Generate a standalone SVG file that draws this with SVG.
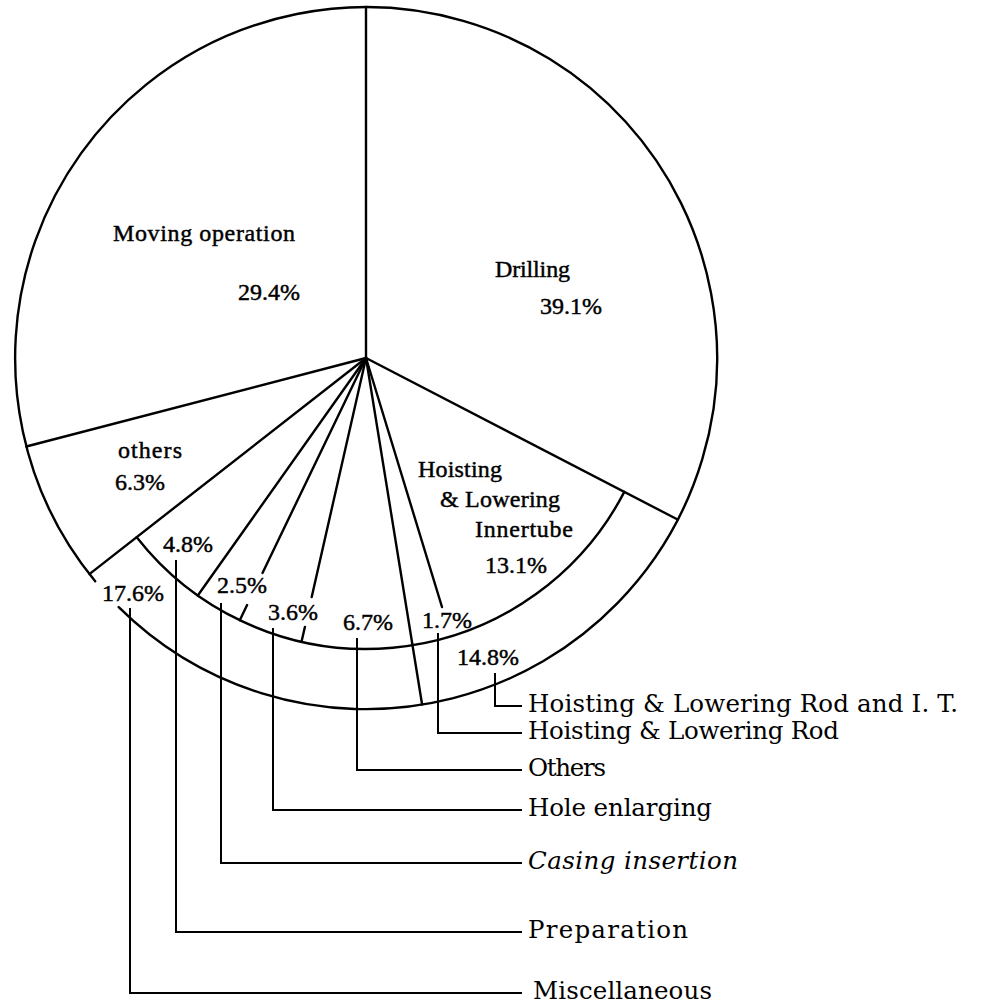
<svg xmlns="http://www.w3.org/2000/svg" width="999" height="1007" viewBox="0 0 999 1007">
<style>
.ln{fill:none;stroke:#000;stroke-width:2.4;stroke-linecap:round;stroke-linejoin:miter}
.ld{fill:none;stroke:#000;stroke-width:2}
.pl{font-family:"Liberation Serif","DejaVu Serif",serif;font-size:24px;fill:#000;stroke:#000;stroke-width:0.45}
.rl{font-family:"DejaVu Serif","Liberation Serif",serif;font-size:24.5px;fill:#000}
</style>
<rect width="999" height="1007" fill="#fff"/>
<g id="pie-outline">
<path class="ln" d="M95.2 581.3 A351 351 0 1 1 118.7 607.1"/>
<path class="ln" d="M624.3 491.9 A291 291 0 0 1 136.7 537.2"/>
</g>
<g id="connectors">
<path class="ln" d="M366 358 L366 7"/>
<path class="ln" d="M366 358 L26.3 446.5"/>
<path class="ln" d="M366 358 L89.4 574.1"/>
<path class="ln" d="M366 358 L197.8 595.5"/>
<path class="ln" d="M366 358 L262.5 573 M247.1 605 L239.8 620.2"/>
<path class="ln" d="M366 358 L311.7 597 M304.9 627 L301.5 641.8"/>
<path class="ln" d="M366 358 L422.1 704.5"/>
<path class="ln" d="M366 358 L442 607"/>
<path class="ln" d="M366 358 L677.6 519.5"/>
<path class="ld" d="M130 608 V993 H522"/>
<path class="ld" d="M176 560 V932 H522"/>
<path class="ld" d="M221 603 V863 H522"/>
<path class="ld" d="M273 628 V810 H522"/>
<path class="ld" d="M357 638 V770 H522"/>
<path class="ld" d="M438 633 V733 H522"/>
<path class="ld" d="M495 673 V706 H522"/>
</g>
<g id="moving-operation"><text class="pl" x="113" y="241" textLength="182">Moving operation</text><text class="pl" x="238" y="300">29.4%</text></g>
<g id="drilling"><text class="pl" x="495" y="277" textLength="75">Drilling</text><text class="pl" x="540" y="314">39.1%</text></g>
<g id="others-main"><text class="pl" x="118" y="458" textLength="64">others</text><text class="pl" x="115" y="490">6.3%</text></g>
<g id="innertube"><text class="pl" x="418" y="477" textLength="84">Hoisting</text><text class="pl" x="440" y="507" textLength="120">&amp; Lowering</text><text class="pl" x="475" y="537" textLength="98">Innertube</text><text class="pl" x="485" y="573">13.1%</text></g>
<g id="preparation-pct"><text class="pl" x="163" y="552">4.8%</text></g>
<g id="casing-pct"><text class="pl" x="217" y="593">2.5%</text></g>
<g id="hole-pct"><text class="pl" x="268" y="620">3.6%</text></g>
<g id="others-pct"><text class="pl" x="343" y="630">6.7%</text></g>
<g id="rod-pct"><text class="pl" x="422" y="628">1.7%</text></g>
<g id="misc-pct"><text class="pl" x="102" y="601">17.6%</text></g>
<g id="rodit-pct"><text class="pl" x="457" y="665">14.8%</text></g>
<g id="legend">
<text class="rl" x="528" y="712" textLength="430">Hoisting &amp; Lowering Rod and I. T.</text>
<text class="rl" x="528" y="739" textLength="311">Hoisting &amp; Lowering Rod</text>
<text class="rl" x="528" y="776" textLength="78">Others</text>
<text class="rl" x="528" y="816" textLength="184">Hole enlarging</text>
<text class="rl" x="528" y="869" font-style="italic" textLength="210">Casing insertion</text>
<text class="rl" x="528" y="938" textLength="160">Preparation</text>
<text class="rl" x="533" y="999" textLength="179">Miscellaneous</text>
</g>
</svg>
